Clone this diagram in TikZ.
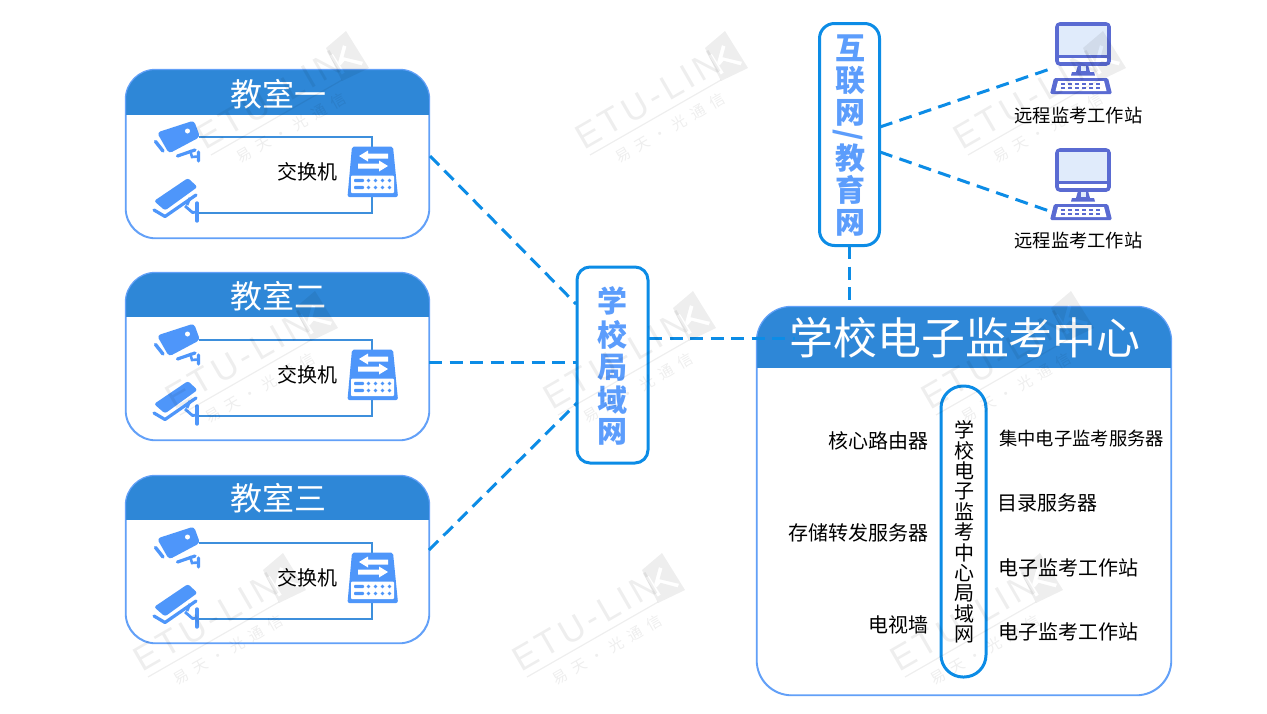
\documentclass[tikz,border=0pt]{standalone}
\usepackage{fontspec}
\setmainfont{Noto Sans CJK SC}
\newfontfamily\wmfont[LetterSpace=12]{Liberation Sans}
\usetikzlibrary{calc}
\definecolor{head}{HTML}{2E87D7}
\definecolor{edge}{HTML}{62A0F8}
\definecolor{wire}{HTML}{3D8FDC}
\definecolor{icon}{HTML}{4E96FA}
\definecolor{dash}{HTML}{0C8CE6}
\definecolor{lab}{HTML}{5C9DFC}
\definecolor{pc}{HTML}{5A6BD2}
\definecolor{screen}{HTML}{E0EBFB}
\tikzset{
  panel/.style={draw=edge,line width=1.2pt,fill=white,rounded corners=#1,inner sep=0pt},
  pill/.style={draw=dash,line width=3pt,fill=white,rounded corners=#1,inner sep=0pt},
  link/.style={draw=dash,line width=3pt,dash pattern=on 13pt off 7.5pt},
  inner/.style={draw=wire,line width=1.1pt},
  title/.style={text=white,font=\fontsize{#1}{#1}\selectfont,inner sep=0pt},
  lbl/.style={text=black,font=\fontsize{#1}{#1}\selectfont,inner sep=0pt},
  vchar/.style={text=lab,font=\fontsize{30}{30}\selectfont\bfseries,inner sep=0pt},
}
\newcommand{\camtop}{%
  \fill[icon,rounded corners=3.5pt] (157,132.5)--(194,120.5)--(200,137)--(169,153.5)--cycle;
  \fill[white] (187.5,131) circle (2.5);
  \draw[icon,line width=3.4pt,line cap=round] (155.5,141.5)--(163,151);
  \draw[icon,line width=3.2pt,line cap=round] (177.5,156)--(195,150) (198.5,152)--(198.5,161);
  \draw[icon,line width=2.6pt] (190,150)--(192,157)--(198,156.5);
}
\newcommand{\cambot}{%
  \fill[icon,rounded corners=2.5pt] (154,201)--(188,178)--(197.5,187)--(165,210.5)--cycle;
  \draw[icon,line width=3.2pt,line cap=round,line join=round] (154,210)--(165,216.5)--(196,195);
  \draw[icon,line width=3.4pt,line cap=round] (197,203)--(197,221);
  \draw[icon,line width=2.8pt] (185,206)--(192.5,212.5)--(197,212) (190,198)--(187,205);
}
\newcommand{\switchicon}{%
  \fill[icon,rounded corners=2pt] (352,146.5)--(393,146.5)--(398,197)--(347.5,197)--cycle;
  \fill[white,rounded corners=1pt] (351,175.5)--(394,175.5)--(394,193)--(351,193)--cycle;
  \fill[white] (359,156)--(368,150.5)--(368,153.5)--(388,153.5)--(388,158.5)--(368,158.5)--(368,161.5)--cycle;
  \fill[white] (388,166)--(379,160.5)--(379,163.5)--(358,163.5)--(358,168.5)--(379,168.5)--(379,171.5)--cycle;
  \foreach \yy in {180.5,187.5}{
    \fill[icon,rounded corners=1pt] (354,\yy-1.7) rectangle (364,\yy+1.7);
    \foreach \xx in {369,376,383,390} \fill[icon] (\xx-.5,\yy) circle (1.8);
  }
}
\newcommand{\pcicon}{%
  \draw[pc,line width=3.6pt,fill=white,rounded corners=3pt] (1057,24)rectangle(1109,64);
  \fill[screen] (1059,26)rectangle(1107,55);
  \fill[pc] (1056,55)rectangle(1110,57.5);
  \fill[pc] (1078,65)--(1088,65)--(1090,72)--(1094,72)--(1095,75.5)--(1071,75.5)--(1072,72)--(1076,72)--cycle;
  \fill[screen] (1080.5,65.5)rectangle(1085.5,71);
  \fill[pc,rounded corners=1.5pt] (1054,78)--(1108,78)--(1112,94)--(1050,94)--cycle;
  \fill[white] (1058,81)--(1104,81)--(1106.5,91)--(1055.5,91)--cycle;
  \foreach \xx in {1063,1070,1077,1084,1091,1098}{
    \fill[pc] (\xx-2.4,83)rectangle(\xx+2.4,85);
    \fill[pc] (\xx-2.4,87)rectangle(\xx+2.4,89);
  }
}
\newcommand{\roomheader}[2]{%
  \begin{scope}
    \clip[rounded corners=30pt] (#1.south west) rectangle (#1.north east);
    \fill[head] (#1.north west) rectangle (#1.east |- 0,#2);
  \end{scope}
  \draw[edge,line width=1.2pt,rounded corners=30pt] (#1.south west) rectangle (#1.north east);
}
\newcommand{\watermark}[2]{%
  \begin{scope}[shift={(#1,#2)},opacity=.065]
    % tag with the letter K cut out of it
    \fill[black,even odd rule] (150,-124)--(173,-87)--(146,-74)--(130,-107)--cycle
      (136.8,-101.3)--(148.8,-82.3)--(145.8,-80.3)--(133.8,-99.3)--cycle
      (142.2,-92.8)--(146.9,-109.9)--(150.5,-108.6)--(147.5,-97.8)--(167,-93.2)--(165.8,-89.6)--(148.6,-94.2)--(144.4,-89.2)--cycle;
    \node[rotate=30,inner sep=0pt,text=black,font=\wmfont\fontsize{35}{35}\selectfont] at (73,-55) {ETU-LIN};
    \draw[black,line width=1.2pt] (15,0)--(146,-75);
    \node[rotate=30,inner sep=0pt,text=black,font=\fontsize{15}{15}\selectfont] at (95,-27) {易\ \ 天\ \ ·\ \ 光\ \ 通\ \ 信};
  \end{scope}
}
\begin{document}
\begin{tikzpicture}[x=1pt,y=-1pt]
\useasboundingbox (0,0) rectangle (1267,713);
\fill[white] (0,0) rectangle (1267,713);

% rooms
\node[panel=30pt,minimum width=303pt,minimum height=168pt] (room1) at (277.5,154) {};
\node[panel=30pt,minimum width=303pt,minimum height=167pt] (room2) at (277.5,356.5) {};
\node[panel=30pt,minimum width=303pt,minimum height=167pt] (room3) at (277.5,559.5) {};
\roomheader{room1}{115}
\roomheader{room2}{317}
\roomheader{room3}{520}
\node[title=32] (t1) at (278,94) {教室一};
\node[title=32] (t2) at (278,296) {教室二};
\node[title=32] (t3) at (278,498) {教室三};

\foreach \dy/\n in {0/1,203/2,406/3}{
  \begin{scope}[yshift=-\dy pt]
    \coordinate (a\n) at (199,137);
    \coordinate (b\n) at (372,137);
    \coordinate (c\n) at (372,213);
    \coordinate (d\n) at (199,213);
    \draw[inner] (a\n)--(b\n)--(c\n)--(d\n);
    \camtop
    \cambot
    \switchicon
    \node[lbl=20] (sw\n) at (307,172) {交换机};
  \end{scope}
}

% central
\node[panel=35pt,minimum width=414pt,minimum height=388pt] (center) at (964,501) {};
\begin{scope}
  \clip[rounded corners=35pt] (center.south west) rectangle (center.north east);
  \fill[head] (center.north west) rectangle (center.east |- 0,368);
\end{scope}
\draw[edge,line width=1.2pt,rounded corners=35pt] (center.south west) rectangle (center.north east);

% connector ends
\coordinate (lanA) at (576,304);
\coordinate (lanB) at (576,362);
\coordinate (lanC) at (578,402);
\coordinate (lanD) at (649,338);
\coordinate (ctW) at (795,338);
\coordinate (netS) at (849,246);
\coordinate (ctN) at (849,307);
\coordinate (netA) at (880,127);
\coordinate (netB) at (880,152);
\coordinate (pcA) at (1053,68);
\coordinate (pcB) at (1052,212);
\coordinate (rm1) at (430,156);
\coordinate (rm2) at (429,362);
\coordinate (rm3) at (429,550);

\draw[link] (rm1)--(lanA);
\draw[link] (rm2)--(lanB);
\draw[link] (rm3)--(lanC);
\draw[link] (lanD)--(ctW);
\draw[link] (netS)--(ctN);
\draw[link] (netA)--(pcA);
\draw[link] (netB)--(pcB);

\node[title=43.9] (ct) at (965,338) {学校电子监考中心};

\node[pill=22pt,minimum width=45pt,minimum height=291pt] (clan) at (963.5,531.5) {};
\node[lbl=20,align=center,font=\fontsize{20}{20.4}\selectfont] (clant) at (964,532) {学\\校\\电\\子\\监\\考\\中\\心\\局\\域\\网};

\node[lbl=20,anchor=east] (l1) at (929,441) {核心路由器};
\node[lbl=20,anchor=east] (l2) at (929,532.5) {存储转发服务器};
\node[lbl=20,anchor=east] (l3) at (929,624.5) {电视墙};
\node[lbl=18.3,anchor=west] (r1) at (999,439) {集中电子监考服务器};
\node[lbl=20,anchor=west] (r2) at (997,503) {目录服务器};
\node[lbl=20,anchor=west] (r3) at (998,567.5) {电子监考工作站};
\node[lbl=20,anchor=west] (r4) at (998,631.5) {电子监考工作站};

\node[pill=13pt,minimum width=71pt,minimum height=196pt] (lan) at (612.5,365) {};
\node[vchar] (q1) at (612.5,301) {学};
\node[vchar] (q2) at (612.5,334.5) {校};
\node[vchar] (q3) at (612.5,368) {局};
\node[vchar] (q4) at (612.5,400.5) {域};
\node[vchar] (q5) at (612.5,432) {网};

\node[pill=15pt,minimum width=60pt,minimum height=222pt] (net) at (849.5,134.5) {};
\node[vchar] (n1) at (850,48) {互};
\node[vchar] (n2) at (850,81) {联};
\node[vchar] (n3) at (850,113) {网};
\node[vchar,rotate=-90] (n4) at (848,135) {/};
\node[vchar] (n5) at (850,158) {教};
\node[vchar] (n6) at (850,190) {育};
\node[vchar] (n7) at (850,223) {网};

% workstations
\pcicon
\node[lbl=18.3] (w1) at (1078.5,116) {远程监考工作站};
\begin{scope}[yshift=-126pt]
  \pcicon
\end{scope}
\node[lbl=18.3] (w2) at (1078.5,241) {远程监考工作站};

% watermarks
\foreach \wx/\wy in {133/677,512/677,890/677,165/415,543/415,921/415,196/155,575/155,953/155}{
  \watermark{\wx}{\wy}
}
\end{tikzpicture}
\end{document}
